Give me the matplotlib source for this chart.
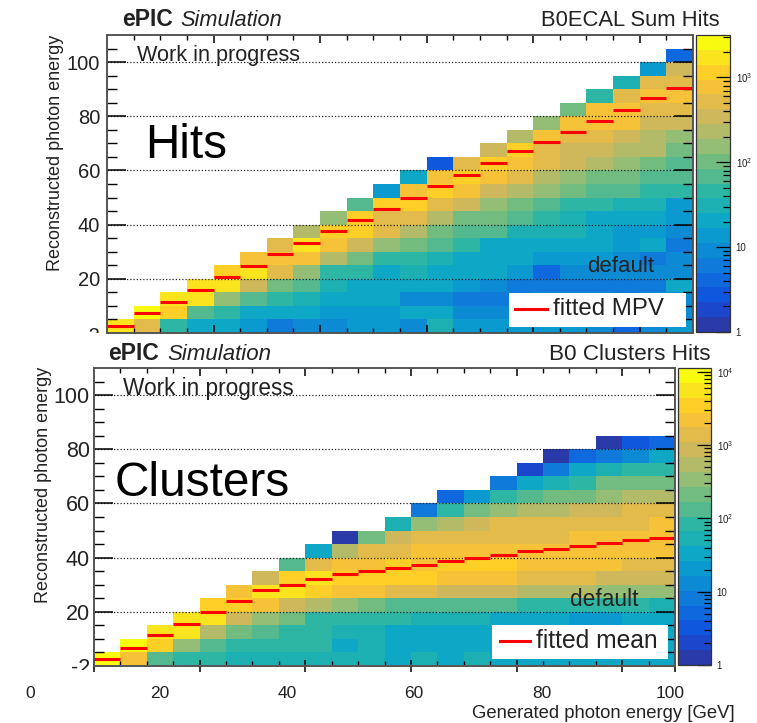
import numpy as np
import matplotlib
matplotlib.use('Agg')
from matplotlib import pyplot as plt
from matplotlib.colors import ListedColormap, LogNorm
from matplotlib.lines import Line2D
from matplotlib.patches import Rectangle
from matplotlib.transforms import Bbox

plt.rcParams['font.family'] = ['Liberation Sans', 'DejaVu Sans']

W, H = 757, 723

# colour level of each cell (0 = lowest, 19 = highest), per column, bottom row first
hits_levels = [
    [18],
    [15, 19],
    [9, 17, 18],
    [7, 10, 18, 18],
    [7, 9, 12, 18, 17],
    [6, 7, 10, 14, 18, 16],
    [4, 7, 9, 11, 15, 16, 15],
    [5, 7, 8, 10, 12, 16, 18, 13],
    [5, 6, 7, 8, 9, 13, 16, 17, 12],
    [6, 6, 7, 7, 9, 11, 14, 17, 17, 10],
    [6, 6, 7, 7, 7, 9, 12, 15, 15, 17, 6],
    [5, 7, 5, 7, 8, 9, 11, 13, 15, 17, 16, 7],
    [8, 7, 5, 7, 7, 8, 10, 11, 13, 15, 17, 16, 2],
    [6, 5, 4, 6, 7, 7, 9, 10, 11, 14, 16, 17, 15],
    [6, 5, 4, 5, 7, 7, 7, 10, 11, 12, 14, 16, 17, 14],
    [6, 5, 4, 4, 6, 7, 7, 8, 10, 11, 13, 15, 16, 17, 13],
    [6, 5, 5, 4, 3, 6, 7, 8, 9, 10, 12, 13, 15, 15, 16, 12],
    [6, 5, 5, 4, 5, 6, 7, 8, 8, 9, 11, 12, 14, 14, 15, 16, 11],
    [5, 5, 5, 4, 5, 6, 7, 7, 7, 9, 10, 11, 13, 14, 15, 16, 16, 9],
    [3, 5, 4, 4, 5, 5, 6, 6, 7, 8, 10, 11, 12, 13, 14, 16, 16, 15, 8],
    [5, 5, 5, 4, 5, 4, 7, 6, 7, 8, 9, 10, 11, 13, 13, 14, 15, 16, 15, 6],
    [6, 5, 5, 7, 5, 5, 4, 5, 6, 6, 9, 10, 10, 11, 12, 14, 15, 16, 15, 14, 3],
]
clusters_levels = [
    [19],
    [16, 19],
    [10, 17, 18],
    [9, 12, 18, 18],
    [9, 10, 13, 18, 17],
    [8, 9, 11, 14, 17, 16],
    [8, 9, 10, 12, 16, 18, 14],
    [8, 9, 9, 11, 14, 18, 17, 10],
    [8, 9, 9, 9, 13, 17, 18, 15, 7],
    [8, 7, 8, 9, 12, 16, 17, 16, 13, 0],
    [8, 8, 8, 9, 11, 16, 17, 16, 15, 11],
    [7, 7, 7, 9, 10, 15, 17, 17, 15, 14, 8],
    [8, 7, 7, 8, 10, 15, 17, 16, 16, 15, 12, 4],
    [7, 7, 7, 8, 10, 14, 16, 17, 16, 15, 13, 9, 3],
    [8, 7, 7, 8, 10, 14, 16, 17, 16, 15, 14, 11, 6],
    [7, 7, 7, 7, 10, 14, 16, 17, 16, 15, 15, 12, 9, 4],
    [7, 7, 7, 7, 9, 13, 15, 16, 16, 15, 15, 13, 10, 7, 1],
    [7, 7, 7, 7, 9, 13, 15, 16, 16, 15, 15, 13, 11, 8, 4, 0],
    [7, 7, 7, 6, 9, 13, 15, 16, 16, 16, 15, 14, 11, 9, 7, 3],
    [7, 7, 7, 6, 9, 12, 14, 16, 16, 16, 15, 14, 12, 11, 8, 4, 0],
    [7, 7, 7, 7, 9, 12, 14, 15, 16, 16, 15, 15, 13, 11, 9, 5, 2],
    [7, 7, 7, 7, 8, 12, 14, 15, 16, 16, 16, 15, 13, 11, 9, 7, 3],
]

fitted_mpv = [2.5, 7.3, 11.4, 15.7, 20.5, 24.7, 29.0, 33.2, 37.5, 41.8, 45.6,
              49.9, 54.1, 58.4, 62.7, 67.0, 70.4, 74.3, 78.4, 82.4, 86.6, 90.5]
fitted_mean = [2.5, 6.8, 11.4, 15.6, 19.9, 24.1, 27.9, 30.0, 32.1, 33.8, 35.1,
               36.3, 37.1, 38.9, 39.7, 41.0, 42.3, 43.1, 44.4, 45.3, 46.5, 47.4]

palette = ['#2A3AA8', '#1A47CC', '#0F58DE', '#0F68DE', '#0F7AD9', '#0D8AD4', '#0A9ACF',
           '#0EA8C6', '#1CB0B2', '#2EB6A5', '#54B98F', '#73BC80', '#94BD75', '#B3BB68',
           '#CFB85C', '#E3BB4A', '#F6C338', '#FDCF27', '#FAE41D', '#F9FB0E']
cmap = ListedColormap(palette)

edges = np.arange(0, 115, 5)
x_tick_labels = ['0', '20', '40', '60', '80', '100']
x_label_px = [30, 160, 287, 414, 542, 670]
INK = '#222222'


def fig_xy(x, y):
    return x / W, 1 - y / H


def add_text(x, y, s, size, ha='left', **kw):
    fx, fy = fig_xy(x, y)
    return fig.text(fx, fy, s, fontsize=size, ha=ha, va='center', color=kw.pop('color', INK), **kw)


def panel(box, cbox, levels, fit, decades, cticks, clabels, ylabelsize, ypad, crossing=False):
    l, t, r, b = box
    ax = fig.add_axes([l / W, 1 - b / H, (r - l) / W, (b - t) / H])
    ax.set_facecolor('white')

    # levels -> counts on the log colour scale
    counts = np.full((22, 22), np.nan)
    for i, col in enumerate(levels):
        counts[:len(col), i] = 10 ** ((np.array(col) + 0.5) / 20 * decades)
    norm = LogNorm(1, 10 ** decades)
    mesh = ax.pcolormesh(edges, edges, counts, cmap=cmap, norm=norm, zorder=1)

    ax.hlines(fit, edges[:-1], edges[1:], color='#FF0000', lw=2.2, zorder=4)
    ax.set_xlim(0, 110)
    ax.set_ylim(0, 110)
    ax.yaxis.grid(True, color='#222222', ls=(0, (1, 1.6)), lw=0.9, zorder=3)
    ax.set_axisbelow(False)

    majors = np.arange(20, 101, 20)
    top = ax.secondary_xaxis('top')
    top.set_xticks(majors)
    top.set_xticks(edges[1:-1], minor=True)
    top.set_xticklabels([])
    top.tick_params(axis='x', which='major', direction='in', length=6, width=1.1)
    top.tick_params(axis='x', which='minor', direction='in', length=3.6, width=1.0)
    top.spines['top'].set_visible(False)

    if crossing:
        # the lower panel's bottom ticks run through the axis line
        ax.set_xticks([0, *majors, 110])
        ax.tick_params(axis='x', which='major', direction='inout', length=9, width=1.1, labelbottom=False)
    else:
        ax.set_xticks(majors)
        ax.tick_params(axis='x', which='major', direction='in', length=6, width=1.1, labelbottom=False)
    ax.set_xticks(edges[1:-1], minor=True)
    ax.tick_params(axis='x', which='minor', direction='in', length=3.6, width=1.0)
    ax.set_yticks(majors)
    ax.set_yticks(edges[1:-1], minor=True)
    ax.tick_params(axis='y', which='major', direction='in', right=True, length=14, width=1.1,
                   labelsize=ylabelsize, pad=ypad, labelcolor=INK)
    ax.tick_params(axis='y', which='minor', direction='in', right=True, length=7.2, width=1.0)
    for s in ax.spines.values():
        s.set_color('#555555')
        s.set_linewidth(1.4)
        s.set_zorder(5)

    l, t, r, b = cbox
    cax = fig.add_axes([l / W, 1 - b / H, (r - l) / W, (b - t) / H])
    cb = fig.colorbar(mesh, cax=cax)
    cb.outline.set_edgecolor('#333333')
    cb.outline.set_linewidth(0.9)
    cb.set_ticks(cticks, labels=clabels)
    cax.tick_params(axis='y', which='major', direction='in', length=10, width=0.9,
                    labelsize=7, pad=4, labelcolor=INK)
    cax.tick_params(axis='y', which='minor', direction='in', length=5, width=0.9)
    return ax


fig = plt.figure(figsize=(W / 100, H / 100), dpi=100)

panel((107, 35, 693, 333), (696, 35, 730, 332), hits_levels, fitted_mpv, 3.5,
      [1, 10, 100, 1000], ['1', '10', '$\\mathregular{10^{2}}$', '$\\mathregular{10^{3}}$'],
      14.5, 5)
panel((94, 368, 675, 666), (678, 368, 711, 665), clusters_levels, fitted_mean, 4.05,
      [1, 10, 100, 1000, 10000], ['1', '10', '$\\mathregular{10^{2}}$', '$\\mathregular{10^{3}}$',
                                  '$\\mathregular{10^{4}}$'],
      15.5, 3, crossing=True)

# titles
add_text(122, 20, 'ePIC', 16.5, fontweight='bold')
add_text(180, 20, 'Simulation', 15.7, fontstyle='italic')
add_text(720, 20, 'B0ECAL Sum Hits', 15.8, ha='right')
add_text(108, 354, 'ePIC', 16.5, fontweight='bold')
add_text(167, 354, 'Simulation', 16, fontstyle='italic')
add_text(711, 354, 'B0 Clusters Hits', 16.2, ha='right')

# overlays
add_text(137, 56, 'Work in progress', 15.6, zorder=10)
add_text(123, 389, 'Work in progress', 16.3, zorder=10)
add_text(145, 145, 'Hits', 34.3, color='black', zorder=10)
add_text(115, 484, 'Clusters', 34.4, color='black', zorder=10)
add_text(587, 267, 'default', 16, zorder=10)
add_text(570, 600, 'default', 16.4, zorder=10)

# y titles
add_text(56, 153, 'Reconstructed photon energy', 13, ha='center', rotation=90)
add_text(44, 485, 'Reconstructed photon energy', 13, ha='center', rotation=90)

# legend boxes
for (bx0, by0, bx1, by1, lx0, lx1, ly, tx, label, size) in [
        (509, 293, 686, 327, 515, 547, 309, 553, 'fitted MPV', 17.3),
        (492, 625, 668, 659, 500, 530, 641, 536, 'fitted mean', 17.7)]:
    fig.add_artist(Rectangle((bx0 / W, 1 - by1 / H), (bx1 - bx0) / W, (by1 - by0) / H,
                             transform=fig.transFigure, fc='white', ec='none', zorder=8))
    fig.add_artist(Line2D([lx0 / W, lx1 / W], [1 - ly / H] * 2, color='#FF0000', lw=2.2, zorder=9))
    add_text(tx, ly, label, size, zorder=10)

# x tick labels sit away from their ticks in the original
for x, s in zip(x_label_px, x_tick_labels):
    add_text(x, 694, s, 12.5, ha='center')
add_text(735, 714, 'Generated photon energy [GeV]', 13.3, ha='right')

# cut off "-2" labels at the bottom of each y axis
for x, y, clip_y, size in [(91, 337, 333, 14.5), (81, 668, 670, 15.5)]:
    t = add_text(x, y, '-2', size, ha='center')
    t.set_clip_on(True)
    t.set_clip_box(Bbox([[0, H - clip_y], [W, H]]))

fig.savefig('out.png', dpi=100)
